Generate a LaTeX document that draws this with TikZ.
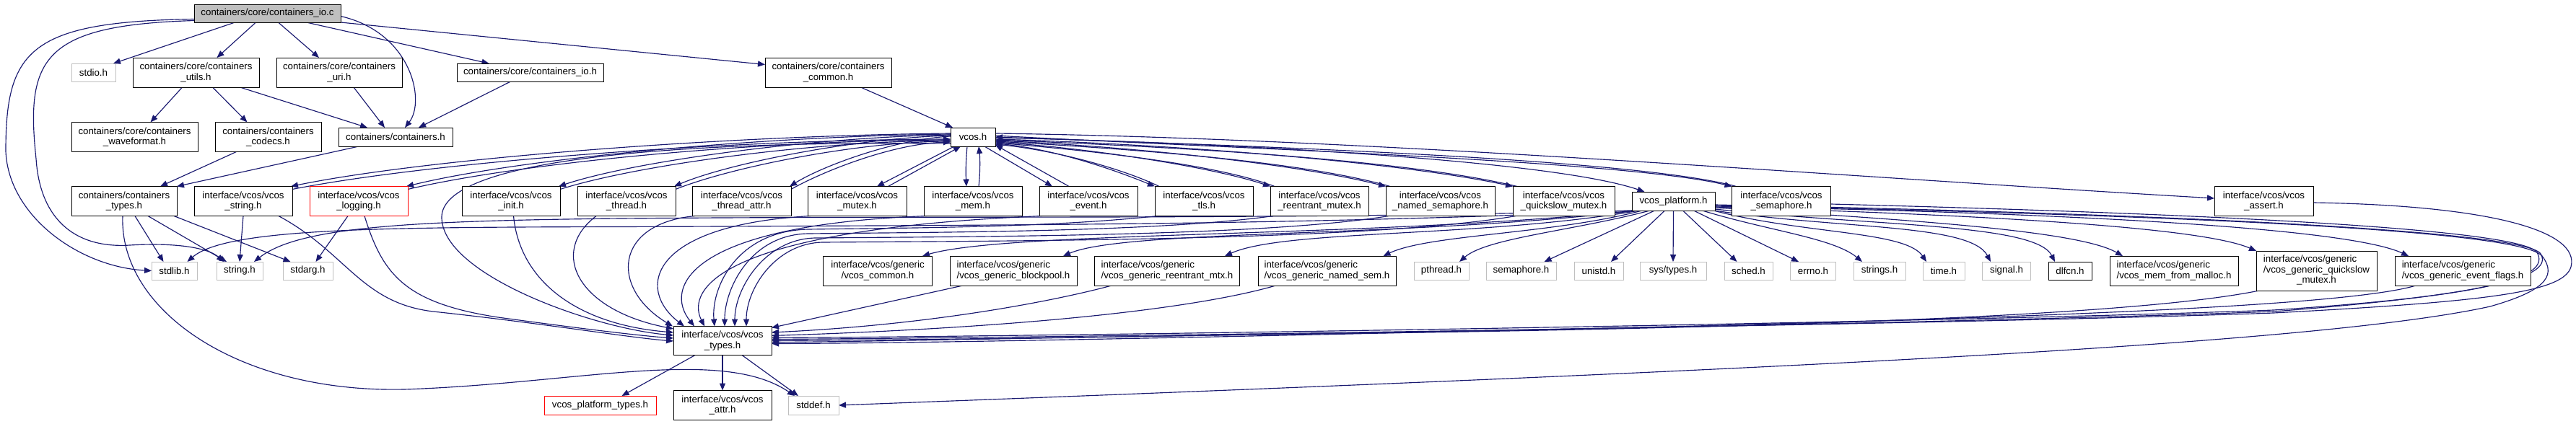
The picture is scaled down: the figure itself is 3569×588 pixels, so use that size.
\documentclass[tikz,border=0pt]{standalone}
\usepackage{fontspec}
\setmainfont{Liberation Sans}
\usetikzlibrary{arrows.meta}
\definecolor{edgeblue}{HTML}{191970}
\definecolor{sysgray}{HTML}{BFBFBF}
\definecolor{rootgray}{HTML}{BFBFBF}
\newcommand{\dxfont}{\fontsize{13.3pt}{14.5pt}\selectfont}
\pgfdeclarelayer{bg}
\pgfsetlayers{bg,main}
\begin{document}
\begin{tikzpicture}[x=1pt,y=-1pt,
  nb/.style={draw=black, line width=0.9pt, fill=white, inner sep=0pt, outer sep=0pt, font=\dxfont, align=center, text=black},
  sysn/.style={nb, draw=sysgray},
  redn/.style={nb, draw=red},
  lft/.style={align=left},
  wh/.style 2 args={minimum width=#1pt, minimum height=#2pt},
  dep/.style={draw=edgeblue, line width=1.15pt, -{Triangle[length=10pt,width=8pt]}}]
\useasboundingbox (0,0) rectangle (3569,588);
% ---------------- nodes ----------------
\node[nb, wh={203}{25}, fill=rootgray] (io) at (370.5,18.5) {containers/core/containers\_io.c};
\node[sysn, wh={61}{25}] (stdio) at (129.5,100.5) {stdio.h};
\node[nb, wh={175}{41}] (utils) at (271.5,100.5) {containers/core/containers\\\_utils.h};
\node[nb, wh={174}{41}] (uri) at (470,100.5) {containers/core/containers\\\_uri.h};
\node[nb, wh={203}{25}] (ioh) at (734.5,100.5) {containers/core/containers\_io.h};
\node[nb, wh={175}{41}] (common) at (1147.5,100.5) {containers/core/containers\\\_common.h};
\node[nb, wh={175}{41}] (wave) at (186.5,190) {containers/core/containers\\\_waveformat.h};
\node[nb, wh={147}{41}] (codecs) at (371.5,190) {containers/containers\\\_codecs.h};
\node[nb, wh={158}{26}] (cont) at (548,190) {containers/containers.h};
\node[nb, wh={62}{26}] (vcos) at (1348,190) {vcos.h};
% row 3
\node[nb, wh={146}{41}] (types) at (172,279) {containers/containers\\\_types.h};
\node[nb, wh={136}{41}] (vstr) at (337,279) {interface/vcos/vcos\\\_string.h};
\node[redn, wh={136}{41}] (vlog) at (497,279) {interface/vcos/vcos\\\_logging.h};
\node[nb, wh={136}{41}] (vinit) at (708,279) {interface/vcos/vcos\\\_init.h};
\node[nb, wh={136}{41}] (vthr) at (868,279) {interface/vcos/vcos\\\_thread.h};
\node[nb, wh={137}{41}] (vtha) at (1027.5,279) {interface/vcos/vcos\\\_thread\_attr.h};
\node[nb, wh={137}{41}] (vmtx) at (1187.5,279) {interface/vcos/vcos\\\_mutex.h};
\node[nb, wh={136}{41}] (vmem) at (1348,279) {interface/vcos/vcos\\\_mem.h};
\node[nb, wh={136}{41}] (vevt) at (1508,279) {interface/vcos/vcos\\\_event.h};
\node[nb, wh={136}{41}] (vtls) at (1668,279) {interface/vcos/vcos\\\_tls.h};
\node[nb, wh={136}{41}] (vrem) at (1828,279) {interface/vcos/vcos\\\_reentrant\_mutex.h};
\node[nb, wh={151}{41}] (vnsem) at (1995.5,279) {interface/vcos/vcos\\\_named\_semaphore.h};
\node[nb, wh={141}{41}] (vqs) at (2166.5,279) {interface/vcos/vcos\\\_quickslow\_mutex.h};
\node[nb, wh={115}{26}] (plat) at (2318.5,279) {vcos\_platform.h};
\node[nb, wh={137}{41}] (vsem) at (2468,279) {interface/vcos/vcos\\\_semaphore.h};
\node[nb, wh={137}{41}] (vass) at (3136.5,279) {interface/vcos/vcos\\\_assert.h};
% row 4
\node[sysn, wh={63}{25}] (stdlib) at (241.5,375.5) {stdlib.h};
\node[sysn, wh={64}{25}] (cstr) at (332,375.5) {string.h};
\node[sysn, wh={69}{25}] (stdarg) at (426.5,375.5) {stdarg.h};
\node[nb, wh={151}{41}] (gcom) at (1216,375.5) {interface/vcos/generic\\/vcos\_common.h};
\node[nb, lft, wh={176}{41}] (gbp) at (1404,375.5) {interface/vcos/generic\\/vcos\_generic\_blockpool.h};
\node[nb, lft, wh={201}{41}] (grm) at (1617,375.5) {interface/vcos/generic\\/vcos\_generic\_reentrant\_mtx.h};
\node[nb, lft, wh={191}{41}] (gns) at (1838.5,375.5) {interface/vcos/generic\\/vcos\_generic\_named\_sem.h};
\node[sysn, wh={76}{25}] (pthr) at (1997,375.5) {pthread.h};
\node[sysn, wh={97}{25}] (csem) at (2107.5,375.5) {semaphore.h};
\node[sysn, wh={68}{25}] (unistd) at (2215,375.5) {unistd.h};
\node[sysn, wh={92}{25}] (systy) at (2318,375.5) {sys/types.h};
\node[sysn, wh={67}{25}] (sched) at (2422.5,375.5) {sched.h};
\node[sysn, wh={63}{25}] (errno) at (2512,375.5) {errno.h};
\node[sysn, wh={72}{25}] (strs) at (2604,375.5) {strings.h};
\node[sysn, wh={58}{25}] (ctime) at (2693,375.5) {time.h};
\node[sysn, wh={67}{25}] (csig) at (2780,375.5) {signal.h};
\node[nb, wh={60}{25}] (dlfcn) at (2868,375.5) {dlfcn.h};
\node[nb, lft, wh={178}{41}] (gmal) at (3012,375.5) {interface/vcos/generic\\/vcos\_mem\_from\_malloc.h};
\node[nb, wh={167}{55}] (gqs) at (3209.5,375.5) {\begin{tabular}{@{}l@{}}interface/vcos/generic\\/vcos\_generic\_quickslow\\\multicolumn{1}{@{}c@{}}{\_mutex.h}\end{tabular}};
\node[nb, lft, wh={188}{41}] (gef) at (3412,375.5) {interface/vcos/generic\\/vcos\_generic\_event\_flags.h};
% row 5, 6
\node[nb, wh={136}{40}] (vty) at (1001,472.5) {interface/vcos/vcos\\\_types.h};
\node[redn, wh={155}{26}] (ptyp) at (831.5,562) {vcos\_platform\_types.h};
\node[nb, wh={136}{41}] (vattr) at (1001,562) {interface/vcos/vcos\\\_attr.h};
\node[sysn, wh={70}{26}] (stddef) at (1127,562) {stddef.h};
% ---------------- edges ----------------
\begin{pgfonlayer}{bg}
\fill[white] (0,0) rectangle (3569,588);
% containers_io.c
\draw[dep] ([xshift=-45pt]io.south) -- ([xshift=-3pt]stdio.north east);
\draw[dep] ([xshift=-16pt]io.south) -- ([xshift=29pt]utils.north);
\draw[dep] ([xshift=15pt]io.south) -- ([xshift=-28pt]uri.north);
\draw[dep] ([xshift=54pt]io.south) -- ([xshift=-57pt]ioh.north);
\draw[dep] (io.south east) -- ([yshift=11pt]common.west);
\draw[dep] ([yshift=-4pt]io.east) .. controls (570,45) and (590,140) .. ([xshift=13pt]cont.north);
\draw[dep] ([yshift=-8pt]io.west) .. controls (40,30) and (8,70) .. (8,210) .. controls (12,300) and (110,370) .. (stdlib.west);
\draw[dep] ([yshift=-10pt]io.west) .. controls (60,35) and (35,80) .. (50,220) .. controls (55,300) and (100,345) .. (180,340) .. controls (250,336) and (290,345) .. ([xshift=-22pt]cstr.north);
% containers headers
\draw[dep] ([xshift=-19pt]utils.south) -- ([xshift=22pt]wave.north);
\draw[dep] ([xshift=23pt]utils.south) -- ([xshift=-29pt]codecs.north);
\draw[dep] ([xshift=61pt]utils.south) -- ([xshift=-39pt]cont.north);
\draw[dep] ([xshift=20pt]uri.south) -- ([xshift=-15pt]cont.north);
\draw[dep] ([xshift=-27pt]ioh.south) -- ([xshift=32pt]cont.north);
\draw[dep] ([xshift=45pt]common.south) -- ([xshift=3pt]vcos.north west);
\draw[dep] ([xshift=-44pt]codecs.south) -- ([xshift=50pt]types.north);
\draw[dep] ([xshift=-51pt]cont.south) -- (types.north east);
% containers_types.h
\draw[dep] ([xshift=15pt]types.south) -- ([xshift=-15pt]stdlib.north);
\draw[dep] ([xshift=33pt]types.south) -- ([xshift=-18pt]cstr.north);
\draw[dep] ([xshift=-4pt]types.south east) -- ([xshift=-24pt]stdarg.north);
\draw[dep] ([xshift=-2pt]types.south) .. controls (165,430) and (330,545) .. (560,540) .. controls (800,532) and (1000,480) .. ([xshift=-26pt]stddef.north);
% vcos_string, vcos_logging
\draw[dep] (vstr.south) -- (cstr.north);
\draw[dep] ([xshift=49pt]vstr.south) .. controls (480,350) and (500,420) .. (600,432) .. controls (750,448) and (870,468) .. ([yshift=-0.5pt]vty.west);
\draw[dep] ([xshift=-15pt]vlog.south) -- ([xshift=11pt]stdarg.north);
\draw[dep] ([xshift=8pt]vlog.south) .. controls (530,380) and (560,420) .. (690,440) .. controls (800,455) and (880,465) .. ([yshift=3.5pt]vty.west);
% vcos.h -> vcos_types.h
\draw[dep] ([yshift=-9pt]vcos.west) .. controls (900,195) and (615,225) .. (612,300) .. controls (610,380) and (820,455) .. ([yshift=7.5pt]vty.west);
\draw[dep] ([xshift=3.5pt]vinit.south) .. controls (720,390) and (800,450) .. ([yshift=11.5pt]vty.west);
\draw[dep] ([xshift=-42pt]vthr.south) .. controls (760,350) and (800,430) .. ([yshift=16.5pt]vty.west);
% row 3 -> vcos_types.h (top)
\draw[dep] ([xshift=4pt]vtha.south west) .. controls (850,310) and (845,400) .. ([xshift=-69pt]vty.north);
\draw[dep] ([xshift=4pt]vmtx.south west) .. controls (900,312) and (880,400) .. ([xshift=-53pt]vty.north);
\draw[dep] ([xshift=4pt]vmem.south west) .. controls (950,312) and (920,400) .. ([xshift=-39pt]vty.north);
\draw[dep] ([xshift=4pt]vevt.south west) .. controls (1000,318) and (950,400) .. ([xshift=-25pt]vty.north);
\draw[dep] ([xshift=4pt]vtls.south west) .. controls (1450,316) and (1250,316) .. (1120,318) .. controls (1020,320) and (985,400) .. ([xshift=-11pt]vty.north);
\draw[dep] ([xshift=4pt]vrem.south west) .. controls (1600,322) and (1300,322) .. (1120,324) .. controls (1040,325) and (1004,400) .. ([xshift=3pt]vty.north);
\draw[dep] ([xshift=4pt]vnsem.south west) .. controls (1750,328) and (1350,328) .. (1130,330) .. controls (1060,331) and (1018,400) .. ([xshift=17pt]vty.north);
\draw[dep] ([xshift=4pt]vqs.south west) .. controls (1900,334) and (1400,334) .. (1140,336) .. controls (1075,337) and (1034,400) .. ([xshift=33pt]vty.north);
% vcos.h <-> left boxes
\draw[dep] ([yshift=5pt]vcos.west) .. controls (1000,188) and (590,220) .. ([xshift=-2pt]vstr.north east);
\draw[dep] ([yshift=-4pt]vstr.north east) .. controls (595,225) and (1000,194) .. ([yshift=-3pt]vcos.west);
\draw[dep] ([yshift=4pt]vcos.west) .. controls (1050,189) and (720,220) .. ([xshift=-2pt]vlog.north east);
\draw[dep] ([yshift=-4pt]vlog.north east) .. controls (725,225) and (1050,195) .. ([yshift=-4pt]vcos.west);
\draw[dep] ([yshift=3pt]vcos.west) .. controls (1130,190) and (880,223) .. ([xshift=-2pt]vinit.north east);
\draw[dep] ([yshift=-4pt]vinit.north east) .. controls (885,228) and (1130,196) .. ([yshift=-5pt]vcos.west);
\draw[dep] ([yshift=2pt]vcos.west) .. controls (1190,191) and (1010,226) .. ([xshift=-2pt]vthr.north east);
\draw[dep] ([yshift=-4pt]vthr.north east) .. controls (1015,231) and (1190,197) .. ([yshift=-6pt]vcos.west);
\draw[dep] ([yshift=1pt]vcos.west) .. controls (1240,193) and (1140,230) .. ([xshift=-2pt]vtha.north east);
\draw[dep] ([yshift=-4pt]vtha.north east) .. controls (1145,235) and (1240,199) .. ([yshift=-7pt]vcos.west);
% vcos.h <-> mutex, mem, event
\draw[dep] ([xshift=5pt]vcos.south west) -- ([xshift=27.5pt]vmtx.north);
\draw[dep] ([xshift=43pt]vmtx.north) -- ([xshift=14pt]vcos.south west);
\draw[dep] ([xshift=-8pt]vcos.south) .. controls (1338,225) and (1338,240) .. ([xshift=-9pt]vmem.north);
\draw[dep] ([xshift=8pt]vmem.north) .. controls (1358,240) and (1358,220) .. ([xshift=8pt]vcos.south);
\draw[dep] ([xshift=-15pt]vcos.south east) -- ([xshift=-50pt]vevt.north);
\draw[dep] ([xshift=-27pt]vevt.north) -- ([yshift=2pt]vcos.south east);
% vcos.h <-> right boxes
\draw[dep] ([yshift=-9pt]vcos.east) .. controls (1460,205) and (1550,238) .. (vtls.north west);
\draw[dep] ([xshift=6pt]vtls.north west) .. controls (1555,234) and (1465,209) .. ([yshift=-10pt]vcos.east);
\draw[dep] ([yshift=-7pt]vcos.east) .. controls (1510,205) and (1680,232) .. (vrem.north west);
\draw[dep] ([xshift=6pt]vrem.north west) .. controls (1685,228) and (1515,209) .. ([yshift=-8pt]vcos.east);
\draw[dep] ([yshift=-5pt]vcos.east) .. controls (1570,203) and (1800,228) .. (vnsem.north west);
\draw[dep] ([xshift=6pt]vnsem.north west) .. controls (1805,224) and (1575,207) .. ([yshift=-6pt]vcos.east);
\draw[dep] ([yshift=-3pt]vcos.east) .. controls (1630,200) and (1940,225) .. (vqs.north west);
\draw[dep] ([xshift=6pt]vqs.north west) .. controls (1945,221) and (1635,204) .. ([yshift=-4pt]vcos.east);
\draw[dep] ([yshift=-1pt]vcos.east) .. controls (1700,198) and (2150,222) .. ([xshift=-40pt]plat.north);
\draw[dep] ([yshift=2pt]vcos.east) .. controls (1680,205) and (2250,222) .. (vsem.north west);
\draw[dep] ([xshift=6pt]vsem.north west) .. controls (2255,218) and (1685,201) .. (vcos.east);
\draw[dep] ([yshift=5pt]vcos.east) .. controls (1900,192) and (2550,245) .. ([yshift=4pt]vass.west);
% vcos_platform.h fan, left
\draw[dep] ([xshift=1pt]plat.south west) .. controls (1800,312) and (1400,312) .. (1000,314) .. controls (600,316) and (320,310) .. ([xshift=18pt]stdlib.north);
\draw[dep] ([xshift=2pt]plat.south west) .. controls (1800,304) and (1400,300) .. (1000,302) .. controls (600,304) and (420,310) .. ([xshift=20pt]cstr.north);
\draw[dep] ([xshift=4pt]plat.south west) .. controls (1900,330) and (1400,320) .. ([xshift=62pt]gcom.north);
\draw[dep] ([xshift=7pt]plat.south west) .. controls (1950,330) and (1560,318) .. ([xshift=69pt]gbp.north);
\draw[dep] ([xshift=10pt]plat.south west) .. controls (2050,330) and (1780,318) .. ([xshift=80pt]grm.north);
\draw[dep] ([xshift=14pt]plat.south west) .. controls (2150,325) and (1980,325) .. ([xshift=78pt]gns.north);
\draw[dep] ([xshift=25pt]plat.south west) .. controls (2180,320) and (2060,330) .. ([xshift=25pt]pthr.north);
% vcos_platform.h fan, right
\draw[dep] ([xshift=-26pt]plat.south) -- ([xshift=32pt]csem.north);
\draw[dep] ([xshift=-12pt]plat.south) -- ([xshift=17pt]unistd.north);
\draw[dep] (plat.south) -- (systy.north);
\draw[dep] ([xshift=13pt]plat.south) -- ([xshift=-16pt]sched.north);
\draw[dep] ([xshift=28pt]plat.south) -- ([xshift=-20pt]errno.north);
\draw[dep] ([xshift=40pt]plat.south) .. controls (2450,320) and (2540,330) .. ([xshift=-24pt]strs.north);
\draw[dep] ([xshift=-2pt]plat.south east) .. controls (2500,325) and (2640,320) .. ([xshift=-24pt]ctime.north);
\draw[dep] ([xshift=-1pt]plat.south east) .. controls (2550,318) and (2730,310) .. ([xshift=-22pt]csig.north);
\draw[dep] ([yshift=-11pt]plat.east) .. controls (2600,314) and (2820,310) .. ([xshift=-21pt]dlfcn.north);
\draw[dep] ([yshift=-9pt]plat.east) .. controls (2650,305) and (2880,320) .. ([xshift=-71pt]gmal.north);
\draw[dep] ([yshift=-8pt]plat.east) .. controls (2750,298) and (3050,315) .. (gqs.north west);
\draw[dep] ([yshift=-7pt]plat.east) .. controls (2850,295) and (3250,315) .. ([xshift=-75pt]gef.north);
\draw[dep] ([yshift=-6pt]plat.east) .. controls (3000,298) and (3490,318) .. (3522,355) .. controls (3545,385) and (3520,405) .. (3450,425) .. controls (3200,480) and (2400,515) .. (stddef.east);
\draw[dep] ([yshift=-5pt]plat.east) .. controls (3000,296) and (3500,320) .. (3520,352) .. controls (3538,382) and (3460,408) .. (3150,432) .. controls (2700,449) and (1500,470) .. (vty.east);
% far right sources -> vcos_types.h
\draw[dep] ([yshift=-4pt]vsem.east) .. controls (3000,295) and (3490,315) .. (3515,350) .. controls (3535,385) and (3450,410) .. (3150,430) .. controls (2700,447) and (1500,466) .. ([yshift=4pt]vty.east);
\draw[dep] ([yshift=-2pt]vass.east) .. controls (3450,285) and (3575,320) .. (3562,370) .. controls (3552,405) and (3450,418) .. (3150,434) .. controls (2700,450) and (1500,468) .. ([yshift=2pt]vty.east);
\draw[dep] ([xshift=4pt]gqs.south west) .. controls (2950,440) and (2400,455) .. (1900,462) .. controls (1500,467) and (1200,474) .. ([yshift=-2pt]vty.east);
\draw[dep] ([xshift=-65pt]gef.south) .. controls (3250,425) and (2800,440) .. (2350,452) .. controls (1800,465) and (1300,476) .. ([yshift=-4pt]vty.east);
% generic -> vcos_types.h
\draw[dep] ([xshift=-71pt]gns.south) .. controls (1650,430) and (1400,455) .. ([yshift=7pt]vty.east);
\draw[dep] ([xshift=-77pt]grm.south) .. controls (1470,415) and (1300,450) .. ([yshift=11.5pt]vty.east);
\draw[dep] ([xshift=-70pt]gbp.south) -- ([yshift=18pt]vty.east);
% vcos_types.h children
\draw[dep] ([xshift=-38pt]vty.south) -- ([xshift=30pt]ptyp.north);
\draw[dep] (vty.south) -- (vattr.north);
\draw[dep] ([xshift=27pt]vty.south) -- ([xshift=-21pt]stddef.north);
\end{pgfonlayer}
\end{tikzpicture}
\end{document}
